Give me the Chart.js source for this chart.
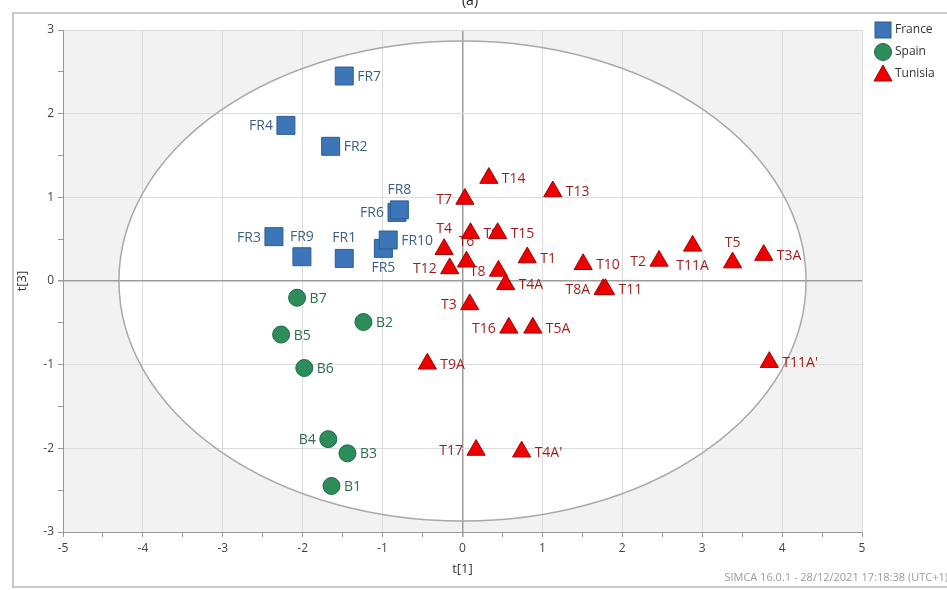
<!DOCTYPE html>
<html>
<head>
<meta charset="utf-8">
<script src="https://cdn.jsdelivr.net/npm/chart.js@4.4.1/dist/chart.umd.min.js"></script>
<style>
    html, body { margin: 0; padding: 0; background: #fff; }
    #wrap { width: 947px; height: 590px; position: relative; }
</style>
</head>
<body>
<div id="wrap"><canvas id="scoreChart" width="947" height="590"></canvas></div>
<script>
// --- Score data t[1] / t[3] ---
const franceNames = ['FR7', 'FR4', 'FR2', 'FR6', 'FR8', 'FR3', 'FR9', 'FR1', 'FR5', 'FR10'];
const franceT1    = [-1.48, -2.21, -1.65, -0.82, -0.79, -2.36, -2.01, -1.48, -0.99, -0.93];
const franceT3    = [ 2.45,  1.86,  1.61,  0.82,  0.85,  0.53,  0.29,  0.27,  0.39,  0.49];

const spainNames = ['B7', 'B2', 'B5', 'B6', 'B4', 'B3', 'B1'];
const spainT1    = [-2.07, -1.24, -2.27, -1.98, -1.68, -1.44, -1.64];
const spainT3    = [-0.20, -0.49, -0.64, -1.04, -1.89, -2.06, -2.45];

const tunisiaNames = ['T14', 'T13', 'T7', 'T9', 'T15', 'T4', 'T6', 'T12', 'T1', 'T8', 'T4A', 'T10',
                      'T8A', 'T11', 'T3', 'T2', 'T11A', 'T5', 'T3A', 'T16', 'T5A', 'T9A', 'T17', "T4A'", "T11A'"];
const tunisiaT1    = [0.33, 1.13, 0.03, 0.10, 0.44, -0.23, 0.05, -0.16, 0.81, 0.45, 0.54, 1.51,
                      1.76, 1.79, 0.09, 2.46, 2.88, 3.38, 3.77, 0.58, 0.88, -0.44, 0.17, 0.74, 3.84];
const tunisiaT3    = [1.23, 1.07, 0.98, 0.57, 0.57, 0.38, 0.23, 0.15, 0.28, 0.12, -0.04, 0.20,
                      -0.10, -0.10, -0.28, 0.24, 0.42, 0.22, 0.31, -0.56, -0.56, -0.99, -2.02, -2.04, -0.97];

const xTicks = [-5, -4, -3, -2, -1, 0, 1, 2, 3, 4, 5];
const yTicks = [-3, -2, -1, 0, 1, 2, 3];

// Hotelling T2 ellipse semi-axes
const ELLIPSE_A = 4.3;
const ELLIPSE_B = 2.87;

// where each label sits relative to its marker (default right)
const labelSide = {
    FR4: 'l', FR6: 'l', FR3: 'l', FR8: 't', FR9: 't', FR1: 't', FR5: 'b',
    B4: 'l',
    T7: 'l', T4: 't', T6: 't', T12: 'l', T8: 'l', T8A: 'l', T3: 'l', T2: 'l',
    T11A: 'b', T5: 't', T16: 'l', T17: 'l'
};

const FONT = '"Open Sans", "Noto Sans", sans-serif';

function toPoints(xs, ys) {
    return xs.map((v, i) => ({ x: v, y: ys[i] }));
}

// --- Drawing helpers ---
const plotDecor = {
    id: 'plotDecor',
    beforeDraw(chart) {
        const { ctx, chartArea: a, scales: { x, y } } = chart;
        ctx.save();
        // outer frame
        ctx.strokeStyle = '#b9b9b9';
        ctx.lineWidth = 1.5;
        ctx.strokeRect(13, 13, 940, 574);
        // plot background
        ctx.fillStyle = '#f2f2f2';
        ctx.fillRect(a.left, a.top, a.right - a.left, a.bottom - a.top);
        // ellipse interior
        const cx = x.getPixelForValue(0), cy = y.getPixelForValue(0);
        const rx = x.getPixelForValue(ELLIPSE_A) - cx;
        const ry = cy - y.getPixelForValue(ELLIPSE_B);
        ctx.beginPath();
        ctx.ellipse(cx, cy, rx, ry, 0, 0, Math.PI * 2);
        ctx.fillStyle = '#ffffff';
        ctx.fill();
        ctx.restore();
    },
    beforeDatasetsDraw(chart) {
        const { ctx, scales: { x, y } } = chart;
        ctx.save();
        // ellipse outline
        const cx = x.getPixelForValue(0), cy = y.getPixelForValue(0);
        const rx = x.getPixelForValue(ELLIPSE_A) - cx;
        const ry = cy - y.getPixelForValue(ELLIPSE_B);
        ctx.beginPath();
        ctx.ellipse(cx, cy, rx, ry, 0, 0, Math.PI * 2);
        ctx.strokeStyle = '#a9a9a9';
        ctx.lineWidth = 1.5;
        ctx.stroke();

        // point labels (under the markers, like the original)
        ctx.font = '14px ' + FONT;
        ctx.textBaseline = 'middle';
        chart.data.datasets.forEach((ds, di) => {
            const meta = chart.getDatasetMeta(di);
            const half = ds.halfSize;
            ctx.fillStyle = ds.labelColor;
            meta.data.forEach((pt, i) => {
                const name = ds.names[i];
                const side = labelSide[name] || 'r';
                let lx = pt.x, ly = pt.y + 1;
                if (side === 'r') { ctx.textAlign = 'left'; lx = pt.x + half + 4; }
                else if (side === 'l') { ctx.textAlign = 'right'; lx = pt.x - half - 4; }
                else if (side === 't') { ctx.textAlign = 'center'; ly = pt.y - half - 11; }
                else { ctx.textAlign = 'center'; ly = pt.y + half + 11; }
                ctx.fillText(name, lx, ly);
            });
        });
        ctx.restore();
    },
    afterDraw(chart) {
        const { ctx, chartArea: a } = chart;
        ctx.save();
        // title, cut off at the top like the source
        ctx.fillStyle = '#222';
        ctx.font = '14px ' + FONT;
        ctx.textAlign = 'center';
        ctx.textBaseline = 'middle';
        ctx.fillText('(a)', 470, 1);

        // axis titles
        ctx.fillStyle = '#333';
        ctx.font = '13px ' + FONT;
        ctx.fillText('t[1]', (a.left + a.right) / 2, 569);
        ctx.save();
        ctx.translate(22, (a.top + a.bottom) / 2);
        ctx.rotate(-Math.PI / 2);
        ctx.fillText('t[3]', 0, 0);
        ctx.restore();

        // footer stamp
        ctx.fillStyle = '#9a9a9a';
        ctx.font = '11px ' + FONT;
        ctx.textAlign = 'right';
        ctx.fillText('SIMCA 16.0.1 - 28/12/2021 17:18:38 (UTC+1)', 948, 578);

        // legend
        const lx = 883;
        ctx.textAlign = 'left';
        ctx.font = '12px ' + FONT;
        ctx.fillStyle = '#3c76b8';
        ctx.strokeStyle = '#2b5c93';
        ctx.lineWidth = 1;
        ctx.fillRect(lx - 8, 22, 16, 16);
        ctx.strokeRect(lx - 8, 22, 16, 16);
        ctx.beginPath();
        ctx.arc(lx, 52, 8.5, 0, Math.PI * 2);
        ctx.fillStyle = '#2c8c5a';
        ctx.fill();
        ctx.strokeStyle = '#1e6a43';
        ctx.stroke();
        ctx.beginPath();
        ctx.moveTo(lx, 65);
        ctx.lineTo(lx + 9, 81);
        ctx.lineTo(lx - 9, 81);
        ctx.closePath();
        ctx.fillStyle = '#ee0000';
        ctx.fill();
        ctx.strokeStyle = '#a80000';
        ctx.stroke();
        ctx.fillStyle = '#333';
        ctx.fillText('France', lx + 12, 30);
        ctx.fillText('Spain', lx + 12, 52);
        ctx.fillText('Tunisia', lx + 12, 74);
        ctx.restore();
    }
};

function gridColor(c) {
    const v = c.tick ? c.tick.value : null;
    if (v === 0) return '#9c9c9c';
    return Number.isInteger(v) ? '#dcdcdc' : 'rgba(0,0,0,0)';
}

function tickLabel(list) {
    return v => (list.includes(v) ? String(v) : '');
}

const ctx = document.getElementById('scoreChart').getContext('2d');
new Chart(ctx, {
    type: 'scatter',
    data: {
        datasets: [
            {
                label: 'France',
                names: franceNames,
                data: toPoints(franceT1, franceT3),
                pointStyle: 'rect',
                pointRadius: 12.7,
                backgroundColor: '#3c76b8',
                borderColor: '#2b5c93',
                borderWidth: 1,
                labelColor: '#3d5f80',
                halfSize: 9
            },
            {
                label: 'Spain',
                names: spainNames,
                data: toPoints(spainT1, spainT3),
                pointStyle: 'circle',
                pointRadius: 8.5,
                backgroundColor: '#2c8c5a',
                borderColor: '#1e6a43',
                borderWidth: 1,
                labelColor: '#2f6b4f',
                halfSize: 8.5
            },
            {
                label: 'Tunisia',
                names: tunisiaNames,
                data: toPoints(tunisiaT1, tunisiaT3),
                pointStyle: 'triangle',
                pointRadius: 10.5,
                backgroundColor: '#ee0000',
                borderColor: '#a80000',
                borderWidth: 1,
                labelColor: '#9e1b1b',
                halfSize: 9
            }
        ]
    },
    options: {
        responsive: false,
        animation: false,
        events: [],
        layout: { padding: { left: 0, top: 30, right: 85, bottom: 0 } },
        plugins: {
            legend: { display: false },
            tooltip: { enabled: false }
        },
        scales: {
            x: {
                type: 'linear',
                min: -5,
                max: 5,
                afterFit: s => { s.height = 58; },
                ticks: {
                    stepSize: 0.5,
                    autoSkip: false,
                    maxRotation: 0,
                    padding: 4,
                    color: '#444',
                    font: { family: FONT, size: 12 },
                    callback: tickLabel(xTicks)
                },
                grid: {
                    color: gridColor,
                    lineWidth: c => (c.tick && c.tick.value === 0 ? 1.5 : 1),
                    tickColor: '#999',
                    tickLength: 5
                },
                border: { color: '#999', width: 1 }
            },
            y: {
                type: 'linear',
                min: -3,
                max: 3,
                afterFit: s => { s.width = 63; },
                ticks: {
                    stepSize: 0.5,
                    autoSkip: false,
                    padding: 4,
                    color: '#444',
                    font: { family: FONT, size: 12 },
                    callback: tickLabel(yTicks)
                },
                grid: {
                    color: gridColor,
                    lineWidth: c => (c.tick && c.tick.value === 0 ? 1.5 : 1),
                    tickColor: '#999',
                    tickLength: 5
                },
                border: { color: '#999', width: 1 }
            }
        }
    },
    plugins: [plotDecor]
});
</script>
</body>
</html>
